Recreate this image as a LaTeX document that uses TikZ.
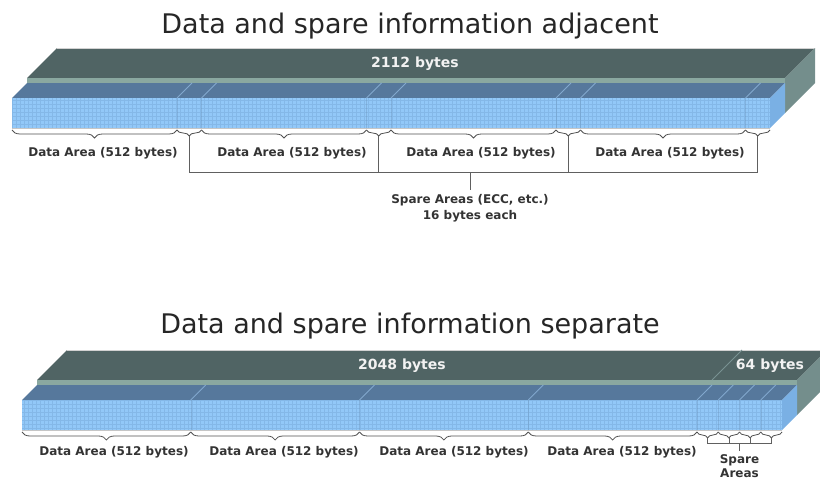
\documentclass[tikz,border=0pt]{standalone}
\usepackage{fontspec}
\setmainfont{DejaVu Sans}
\usetikzlibrary{decorations.pathreplacing}

\definecolor{slabtop}{RGB}{80,100,100}
\definecolor{slabfront}{RGB}{138,168,160}
\definecolor{slabside}{RGB}{116,142,140}
\definecolor{slabsplit}{RGB}{120,146,146}
\definecolor{celltop}{RGB}{86,120,156}
\definecolor{cellfront}{RGB}{146,200,248}
\definecolor{cellside}{RGB}{122,176,228}
\definecolor{cellgrid}{RGB}{132,184,232}
\definecolor{cellsplit}{RGB}{130,168,206}
\definecolor{bracegray}{RGB}{80,80,80}

\tikzset{
  title/.style={font=\fontsize{27}{31}\selectfont, text=black!85, anchor=base},
  lbl/.style={font=\bfseries\fontsize{12}{16.5}\selectfont, text=black!80, align=center},
  bytes/.style={font=\bfseries\fontsize{14}{17}\selectfont, text=white!95!black},
  bigbrace/.style={decorate, decoration={brace, mirror, amplitude=8pt}, draw=bracegray, line width=0.8pt},
  smallbrace/.style={decorate, decoration={brace, mirror, amplitude=6pt}, draw=bracegray, line width=0.8pt},
  bracket/.style={draw=gray!75!black, line width=0.8pt},
}

% One page drawn as a 3D bar: a slab at the back and a row of cells in front.
% #1 = y of the bottom front edge, #2 = left x, #3 = right x
\newcommand\drawpage[3]{%
  \fill[slabtop] ({#2+15},{#1-50}) -- ({#3+15},{#1-50}) -- ({#3+45},{#1-80}) -- ({#2+45},{#1-80}) -- cycle;
  \draw[gray!35, line width=0.8pt] ({#2+45},{#1-80}) -- ({#3+45},{#1-80});
  \fill[slabfront] ({#2+15},{#1-45}) rectangle ({#3+15},{#1-50});
  \fill[slabside] ({#3+15},{#1-15}) -- ({#3+15},{#1-50}) -- ({#3+45},{#1-80}) -- ({#3+45},{#1-45}) -- cycle;
  \fill[celltop] (#2,{#1-30}) -- (#3,{#1-30}) -- ({#3+15},{#1-45}) -- ({#2+15},{#1-45}) -- cycle;
  \fill[cellfront] (#2,#1) rectangle (#3,{#1-30});
  \draw[cellgrid, line width=0.3pt] (#2,#1) grid[step=4pt] (#3,{#1-30});
  \fill[cellside] (#3,#1) -- (#3,{#1-30}) -- ({#3+15},{#1-45}) -- ({#3+15},{#1-15}) -- cycle;
  \draw[gray!45, line width=1.2pt] (#2,{#1+0.6}) -- (#3,{#1+0.6});
}
% slanted split line on the top of the cell row, #1 = base y, #2 = x
\newcommand\cellsplitline[2]{%
  \draw[cellsplit, line width=0.8pt] (#2,{#1-30}) -- ({#2+15},{#1-45});
  \draw[cellgrid!80!black, line width=0.4pt, opacity=0.4] (#2,#1) -- (#2,{#1-30});
}

\begin{document}
\begin{tikzpicture}[x=1pt, y=-1pt]
\useasboundingbox (0,0) rectangle (820,479);
\begin{scope}
\clip (0,0) rectangle (820,479);

% ---------------- adjacent layout ----------------
\node[title] (titleA) at (410,33) {Data and spare information adjacent};
\drawpage{128}{12}{770}
\foreach \x in {177,201.5,366.5,391,556,580.5,745.5} {\cellsplitline{128}{\x}}
\node[bytes] (bytesA) at (415,64) {2112 bytes};

\foreach \x [count=\i from 0] in {12,177,201.5,366.5,391,556,580.5,745.5,770}
  \coordinate (a\i) at (\x,130);
\draw[bigbrace] (a0) -- (a1);
\draw[smallbrace] (a1) -- (a2);
\draw[bigbrace] (a2) -- (a3);
\draw[smallbrace] (a3) -- (a4);
\draw[bigbrace] (a4) -- (a5);
\draw[smallbrace] (a5) -- (a6);
\draw[bigbrace] (a6) -- (a7);
\draw[smallbrace] (a7) -- (a8);

\node[lbl] (dA1) at (103,153) {Data Area (512 bytes)};
\node[lbl] (dA2) at (292,153) {Data Area (512 bytes)};
\node[lbl] (dA3) at (481,153) {Data Area (512 bytes)};
\node[lbl] (dA4) at (670,153) {Data Area (512 bytes)};

\coordinate (sA1) at (189.25,136);
\coordinate (sA2) at (378.75,136);
\coordinate (sA3) at (568.25,136);
\coordinate (sA4) at (757.75,136);
\coordinate (barA) at (0,172);
\node[lbl] (spareA) at (470,208) {Spare Areas (ECC, etc.)\\16 bytes each};
\draw[bracket] (sA1) -- (sA1 |- barA) -- (sA4 |- barA) -- (sA4);
\draw[bracket] (sA2) -- (sA2 |- barA);
\draw[bracket] (sA3) -- (sA3 |- barA);
\draw[bracket] (spareA.north |- barA) -- (spareA.north);

% ---------------- separate layout ----------------
\node[title] (titleB) at (410,333) {Data and spare information separate};
\drawpage{430}{22}{782}
\foreach \x in {190.75,359.5,528.25,697,718.25,739.5,760.75} {\cellsplitline{430}{\x}}
\draw[slabsplit, line width=0.8pt] (712,380) -- (742,350);
\node[bytes] (bytesB) at (402,366) {2048 bytes};
\node[bytes] (bytesC) at (770,366) {64 bytes};

\foreach \x [count=\i from 0] in {22,190.75,359.5,528.25,697,718.25,739.5,760.75,782}
  \coordinate (b\i) at (\x,432);
\draw[bigbrace] (b0) -- (b1);
\draw[bigbrace] (b1) -- (b2);
\draw[bigbrace] (b2) -- (b3);
\draw[bigbrace] (b3) -- (b4);
\draw[smallbrace] (b4) -- (b5);
\draw[smallbrace] (b5) -- (b6);
\draw[smallbrace] (b6) -- (b7);
\draw[smallbrace] (b7) -- (b8);

\node[lbl] (dB1) at (114,452) {Data Area (512 bytes)};
\node[lbl] (dB2) at (284,452) {Data Area (512 bytes)};
\node[lbl] (dB3) at (454,452) {Data Area (512 bytes)};
\node[lbl] (dB4) at (622,452) {Data Area (512 bytes)};

\coordinate (sB1) at (707.6,438);
\coordinate (sB2) at (728.9,438);
\coordinate (sB3) at (750.1,438);
\coordinate (sB4) at (771.4,438);
\coordinate (barB) at (0,443);
\node[lbl, font=\bfseries\fontsize{12}{14.5}\selectfont] (spareB) at (739.5,466) {Spare\\Areas};
\draw[bracket] (sB1) -- (sB1 |- barB) -- (sB4 |- barB) -- (sB4);
\draw[bracket] (sB2) -- (sB2 |- barB);
\draw[bracket] (sB3) -- (sB3 |- barB);
\draw[bracket] (spareB.north |- barB) -- (spareB.north);
\end{scope}
\end{tikzpicture}
\end{document}
